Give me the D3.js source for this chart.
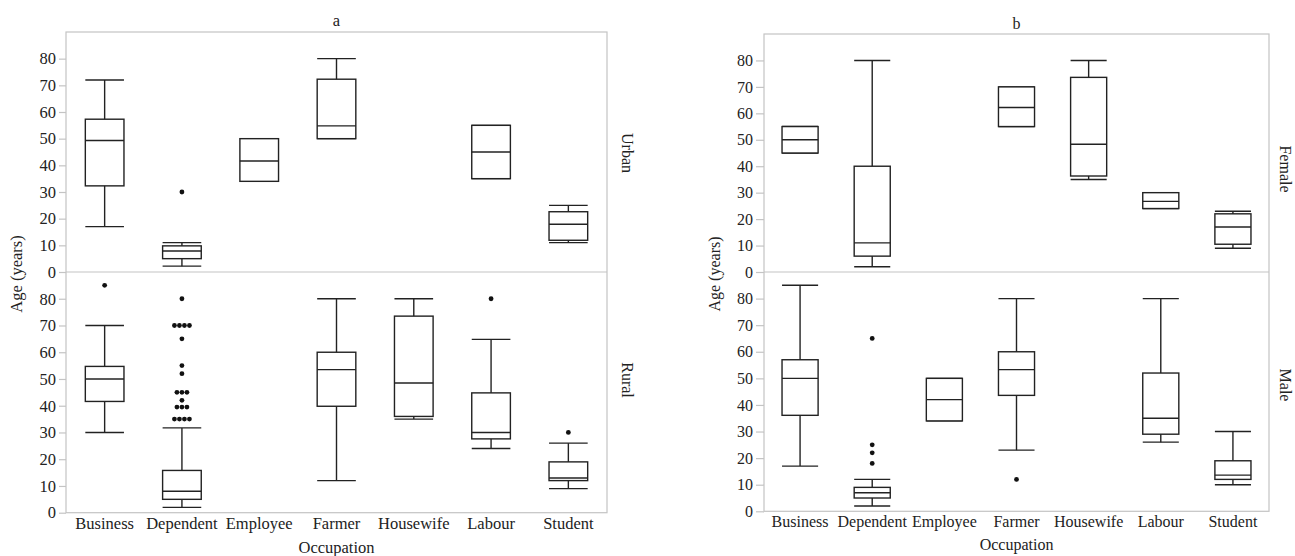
<!DOCTYPE html>
<html>
<head>
<meta charset="utf-8">
<script src="https://cdn.jsdelivr.net/npm/d3@7"></script>
</head>
<body style="margin:0">
<svg id="chart" width="1295" height="556"></svg>
<script>
// ---------------- DATA ----------------
const categories = ["Business", "Dependent", "Employee", "Farmer", "Housewife", "Labour", "Student"];
const yTicks = [0, 10, 20, 30, 40, 50, 60, 70, 80];

// each row: [category, lowerWhisker, Q1, median, Q3, upperWhisker, outliers]
const aUrban = [
  ["Business", 17, 32.3, 49.3, 57.3, 72, []],
  ["Dependent", 2.2, 5, 7.9, 9.8, 11, [30]],
  ["Employee", 34, 34, 41.6, 50, 50, []],
  ["Farmer", 50, 50, 54.8, 72.3, 80, []],
  ["Labour", 35, 35, 45, 55, 55, []],
  ["Student", 11, 11.9, 17.9, 22.6, 25, []]
];
const aRural = [
  ["Business", 30, 41.6, 50, 54.7, 70, [85]],
  ["Dependent", 2, 5, 8, 15.8, 31.7, [80, 70, 70, 70, 70, 65, 55, 52, 45, 45, 45, 42, 39.5, 39.5, 39.5, 35, 35, 35, 35]],
  ["Farmer", 12, 39.8, 53.5, 60, 80, []],
  ["Housewife", 35, 36, 48.5, 73.5, 80, []],
  ["Labour", 24, 27.6, 30, 44.8, 64.8, [80]],
  ["Student", 9, 12, 13, 19, 26, [30]]
];
const bFemale = [
  ["Business", 45, 45, 50, 55, 55, []],
  ["Dependent", 2, 6, 11, 40, 80, []],
  ["Farmer", 55, 55, 62.2, 70, 70, []],
  ["Housewife", 35, 36.3, 48.3, 73.6, 80, []],
  ["Labour", 24, 24, 26.7, 30, 30, []],
  ["Student", 9, 10.5, 17, 22, 23, []]
];
const bMale = [
  ["Business", 17, 36.1, 50, 57, 85, []],
  ["Dependent", 2, 5, 7, 9, 12, [65, 25, 22, 18]],
  ["Employee", 34, 34, 42, 50, 50, []],
  ["Farmer", 23, 43.6, 53.3, 60, 80, [12]],
  ["Labour", 26, 29, 35, 52, 80, []],
  ["Student", 10, 12, 13.6, 19, 30, []]
];

// ---------------- LAYOUT ----------------
const svg = d3.select("#chart");
const frameColor = "#c4c4c4";
const ink = "#222";

function label(sel, size) {
  return sel.style("font-family", "'Liberation Serif'")
    .attr("font-size", size).attr("fill", ink);
}

const panels = [
  {
    title: "a", left: 66, right: 607, top: 32, mid: 272, bottom: 512.7,
    font: 16.5, titleY: 26, catY: 529.3, xTitleY: 553.3, yTitleX: 21.5, yTitleY: 274,
    stripX: 622, tickSize: 7,
    facets: [
      { name: "Urban", data: aUrban, labelY: 153 },
      { name: "Rural", data: aRural, labelY: 380 }
    ]
  },
  {
    title: "b", left: 764, right: 1269, top: 34, mid: 272, bottom: 511.3,
    font: 16, titleY: 29, catY: 526.7, xTitleY: 549.5, yTitleX: 720, yTitleY: 274,
    stripX: 1280, tickSize: 8,
    facets: [
      { name: "Female", data: bFemale, labelY: 169 },
      { name: "Male", data: bMale, labelY: 385 }
    ]
  }
];

panels.forEach(p => {
  const g = svg.append("g");
  const x = d3.scaleBand().domain(categories).range([p.left, p.right]).padding(0);
  const boxW = x.bandwidth() * 0.5;

  const facetRanges = [[p.mid, p.top], [p.bottom, p.mid]];

  // frame
  g.append("rect")
    .attr("x", p.left).attr("y", p.top)
    .attr("width", p.right - p.left).attr("height", p.bottom - p.top)
    .attr("fill", "none").attr("stroke", frameColor).attr("stroke-width", 1.2);
  g.append("line")
    .attr("x1", p.left).attr("x2", p.right)
    .attr("y1", p.mid).attr("y2", p.mid)
    .attr("stroke", frameColor).attr("stroke-width", 1.2);

  // title
  label(g.append("text")
    .attr("x", (p.left + p.right) / 2).attr("y", p.titleY)
    .attr("text-anchor", "middle"), p.font)
    .text(p.title);

  p.facets.forEach((f, i) => {
    const y = d3.scaleLinear().domain([0, 90]).range(facetRanges[i]);

    // y axis
    const ax = g.append("g")
      .attr("transform", `translate(${p.left},0)`)
      .call(d3.axisLeft(y).tickValues(yTicks).tickSize(p.tickSize).tickPadding(3));
    ax.attr("font-family", null);
    ax.select(".domain").remove();
    ax.selectAll(".tick line").attr("stroke", frameColor).attr("stroke-width", 1.2);
    label(ax.selectAll(".tick text"), p.font);

    // strip label (rotated, reading downward)
    label(g.append("text")
      .attr("transform", `translate(${p.stripX},${f.labelY}) rotate(90)`)
      .attr("text-anchor", "middle"), 16)
      .text(f.name);

    // boxes
    const bg = g.selectAll(null).data(f.data).enter().append("g")
      .attr("fill", "none").attr("stroke", ink).attr("stroke-width", 1.4);

    const cx = d => x(d[0]) + x.bandwidth() / 2;

    // whisker stem (lower whisker to upper whisker)
    bg.append("line")
      .attr("x1", d => cx(d)).attr("x2", d => cx(d))
      .attr("y1", d => y(d[5])).attr("y2", d => y(d[1]));
    // caps
    bg.append("line")
      .attr("x1", d => cx(d) - boxW / 2).attr("x2", d => cx(d) + boxW / 2)
      .attr("y1", d => y(d[5])).attr("y2", d => y(d[5]));
    bg.append("line")
      .attr("x1", d => cx(d) - boxW / 2).attr("x2", d => cx(d) + boxW / 2)
      .attr("y1", d => y(d[1])).attr("y2", d => y(d[1]));
    // box
    bg.append("rect")
      .attr("x", d => cx(d) - boxW / 2).attr("width", boxW)
      .attr("y", d => y(d[4])).attr("height", d => y(d[2]) - y(d[4]))
      .attr("fill", "#fff");
    // median
    bg.append("line")
      .attr("x1", d => cx(d) - boxW / 2).attr("x2", d => cx(d) + boxW / 2)
      .attr("y1", d => y(d[3])).attr("y2", d => y(d[3]));

    // outliers: identical values are placed side by side
    f.data.forEach(d => {
      const counts = d3.rollup(d[6], v => v.length, v => v);
      counts.forEach((n, val) => {
        for (let k = 0; k < n; k++) {
          g.append("circle")
            .attr("cx", cx(d) + (k - (n - 1) / 2) * 5)
            .attr("cy", y(val))
            .attr("r", 2.4)
            .attr("fill", "#111");
        }
      });
    });
  });

  // category labels
  label(g.selectAll(null).data(categories).enter().append("text")
    .attr("x", d => x(d) + x.bandwidth() / 2).attr("y", p.catY)
    .attr("text-anchor", "middle"), p.font)
    .text(d => d);

  // x title
  label(g.append("text")
    .attr("x", (p.left + p.right) / 2).attr("y", p.xTitleY)
    .attr("text-anchor", "middle"), p.font)
    .text("Occupation");

  // y title
  label(g.append("text")
    .attr("transform", `translate(${p.yTitleX},${p.yTitleY}) rotate(-90)`)
    .attr("text-anchor", "middle"), p.font)
    .text("Age (years)");
});
</script>
</body>
</html>
